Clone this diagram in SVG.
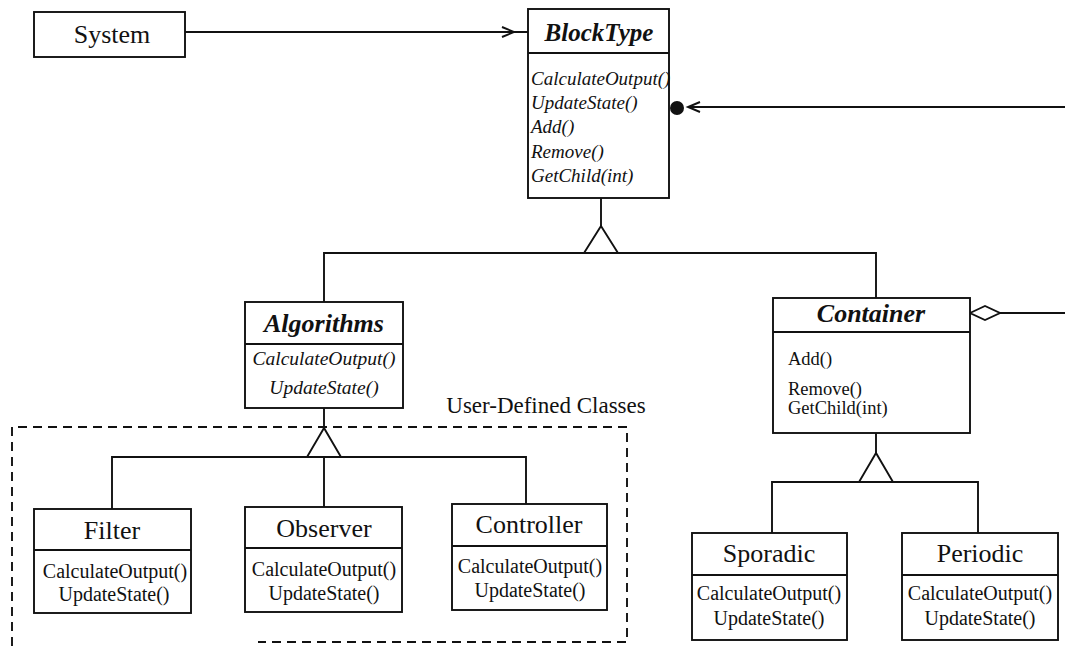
<svg xmlns="http://www.w3.org/2000/svg" width="1065" height="646" viewBox="0 0 1065 646">
<style>
.box{fill:#fff;stroke:#111;stroke-width:1.9}
.ln{fill:none;stroke:#111;stroke-width:1.9}
.tri{fill:#fff;stroke:#111;stroke-width:1.9}
.dash{fill:none;stroke:#111;stroke-width:1.9;stroke-dasharray:9 6}
.t{font-family:'Liberation Serif','Times New Roman','DejaVu Serif',serif;fill:#111}
.title{font-size:26px;text-anchor:middle}
.atitle{font-size:26px;text-anchor:middle;font-weight:bold;font-style:italic}
.m{font-size:20px}
.mi{font-size:19px;font-style:italic}
.c{text-anchor:middle}
</style>
<g id="connectors">
<line class="ln" x1="185" y1="32" x2="528" y2="32"/>
<polyline class="ln" points="502,27 514,32 502,37"/>
<line class="ln" x1="688" y1="107" x2="1065" y2="107"/>
<polyline class="ln" points="700,102 688,107 700,112"/>
<circle cx="677" cy="108" r="7" fill="#111"/>
<line class="ln" x1="601" y1="198" x2="601" y2="226"/>
<polyline class="ln" points="324,302 324,253 876,253 876,298"/>
<polygon class="tri" points="601,226 584,253 618,253"/>
<line class="ln" x1="324" y1="408" x2="324" y2="428"/>
<polyline class="ln" points="112,509 112,457 526,457 526,504"/>
<line class="ln" x1="324" y1="457" x2="324" y2="507"/>
<polygon class="tri" points="324,428 307,457 341,457"/>
<line class="ln" x1="876" y1="433" x2="876" y2="453"/>
<polyline class="ln" points="772,533 772,482 978,482 978,533"/>
<polygon class="tri" points="876,453 859,482 893,482"/>
<line class="ln" x1="1000" y1="313" x2="1065" y2="313"/>
<polygon class="tri" points="970,313 985,306 1000,313 985,320"/>
</g>
<g id="user-defined">
<path class="dash" d="M12,646 V427 H627 V642 H258"/>
<text class="t" x="546" y="413" font-size="23" text-anchor="middle">User-Defined Classes</text>
</g>
<g id="system">
<rect class="box" x="34" y="12" width="151" height="45"/>
<text class="t title" x="112" y="43">System</text>
</g>
<g id="blocktype">
<rect class="box" x="528" y="9" width="141" height="189"/>
<line class="ln" x1="528" y1="53" x2="669" y2="53"/>
<text class="t atitle" x="599" y="41" style="font-size:25px">BlockType</text>
<text class="t mi" x="531" y="85">CalculateOutput()</text>
<text class="t mi" x="531" y="109">UpdateState()</text>
<text class="t mi" x="531" y="133">Add()</text>
<text class="t mi" x="531" y="158">Remove()</text>
<text class="t mi" x="531" y="182">GetChild(int)</text>
</g>
<g id="algorithms">
<rect class="box" x="245" y="302" width="158" height="106"/>
<line class="ln" x1="245" y1="344" x2="403" y2="344"/>
<text class="t atitle" x="324" y="332">Algorithms</text>
<text class="t mi c" x="324" y="365" style="font-size:19.5px">CalculateOutput()</text>
<text class="t mi c" x="324" y="394" style="font-size:19.5px">UpdateState()</text>
</g>
<g id="container">
<rect class="box" x="773" y="298" width="197" height="135"/>
<line class="ln" x1="773" y1="332" x2="970" y2="332"/>
<text class="t atitle" x="871" y="322">Container</text>
<text class="t m" x="788" y="365" style="font-size:18.5px">Add()</text>
<text class="t m" x="788" y="395" style="font-size:18.5px">Remove()</text>
<text class="t m" x="788" y="414" style="font-size:18.5px">GetChild(int)</text>
</g>
<g id="filter">
<rect class="box" x="34" y="509" width="157" height="104"/>
<line class="ln" x1="34" y1="550" x2="191" y2="550"/>
<text class="t title" x="112" y="539">Filter</text>
<text class="t m c" x="115" y="578">CalculateOutput()</text>
<text class="t m c" x="114" y="601">UpdateState()</text>
</g>
<g id="observer">
<rect class="box" x="245" y="507" width="157" height="105"/>
<line class="ln" x1="245" y1="548" x2="402" y2="548"/>
<text class="t title" x="324" y="537">Observer</text>
<text class="t m c" x="324" y="576">CalculateOutput()</text>
<text class="t m c" x="324" y="600">UpdateState()</text>
</g>
<g id="controller">
<rect class="box" x="452" y="504" width="155" height="106"/>
<line class="ln" x1="452" y1="546" x2="607" y2="546"/>
<text class="t title" x="529" y="533">Controller</text>
<text class="t m c" x="530" y="573">CalculateOutput()</text>
<text class="t m c" x="530" y="597">UpdateState()</text>
</g>
<g id="sporadic">
<rect class="box" x="692" y="533" width="155" height="107"/>
<line class="ln" x1="692" y1="575" x2="847" y2="575"/>
<text class="t title" x="769" y="562">Sporadic</text>
<text class="t m c" x="769" y="600">CalculateOutput()</text>
<text class="t m c" x="769" y="625">UpdateState()</text>
</g>
<g id="periodic">
<rect class="box" x="902" y="533" width="156" height="107"/>
<line class="ln" x1="902" y1="575" x2="1058" y2="575"/>
<text class="t title" x="980" y="562">Periodic</text>
<text class="t m c" x="980" y="600">CalculateOutput()</text>
<text class="t m c" x="980" y="625">UpdateState()</text>
</g>
</svg>
